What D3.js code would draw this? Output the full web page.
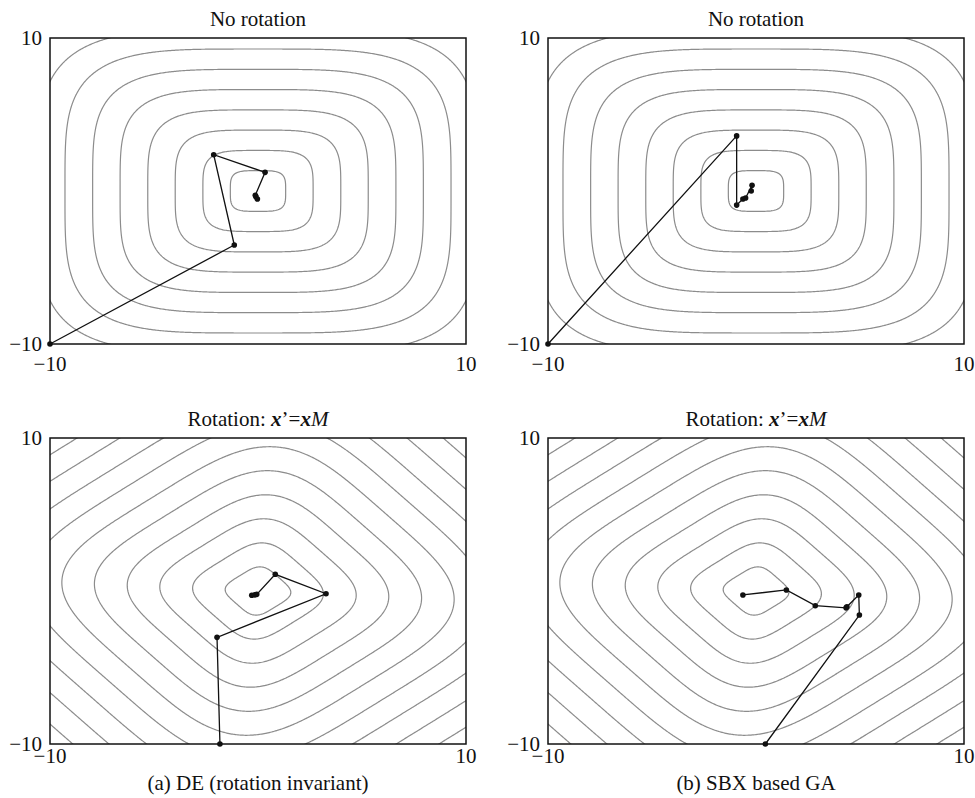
<!DOCTYPE html>
<html>
<head>
<meta charset="utf-8">
<script src="https://cdn.jsdelivr.net/npm/d3@7"></script>
<style>
  body { margin: 0; background: #fff; }
  text { font-family: "Liberation Serif", "Times New Roman", serif; fill: #111; }
</style>
</head>
<body>
<svg id="chart" width="975" height="798"></svg>
<script>
// ========== Chart values ==========
// Contour levels of the (rotated) 4-norm objective.
var contourLevels = [1.33, 2.65, 3.98, 5.3, 6.63, 7.95, 9.28, 10.6, 11.93, 13.25];
// Axis tick labels (same for every panel).
var tickValues = [-10, 10];
var tickLabels = ["\u221210", "10"];
// Rotation angle (degrees) used by each panel's objective.
var panelRotation = [0, 0, 40, 40];
var panelTitles = ["No rotation", "No rotation", "rot", "rot"];
var captions = ["", "", "(a) DE (rotation invariant)", "(b) SBX based GA"];

// Search paths (x, y) for each panel.
var pathDENoRot = [[-10, -10], [-1.14, -3.53], [-2.13, 2.37], [0.34, 1.22], [-0.13, -0.28], [-0.1, -0.37], [-0.03, -0.52]];
var pathGANoRot = [[-10, -10], [-0.93, 3.6], [-0.93, -0.92], [-0.63, -0.52], [-0.5, -0.46], [-0.19, 0.37], [-0.23, 0.0]];
var pathDERot = [[-1.83, -10], [-1.97, -3.03], [3.27, -0.18], [0.83, 1.09], [-0.06, -0.22], [-0.15, -0.25], [-0.3, -0.28]];
var pathGARot = [[0.45, -10], [4.97, -1.57], [4.94, -0.26], [4.37, -1.03], [4.33, -1.1], [2.85, -0.96], [1.46, 0.07], [-0.63, -0.26]];
// =======================================================

var paths = [pathDENoRot, pathGANoRot, pathDERot, pathGARot];
var panelLeft = [50, 548, 50, 548];
var panelTop = [38, 38, 438, 438];
var plotW = 416, plotH = 306;
var fontSize = 21;

// Grid for the contour computation (a bit wider than the plot, then clipped).
var g0 = -12, gStep = 0.06, gN = 401;

function objective(px, py, deg)
{
  var t = deg * Math.PI / 180;
  var u = px * Math.cos(t) + py * Math.sin(t);
  var v = -px * Math.sin(t) + py * Math.cos(t);
  return Math.pow(Math.pow(Math.abs(u), 4) + Math.pow(Math.abs(v), 4), 0.25);
}

function drawPanel(svg, p)
{
  var x0 = panelLeft[p], y0 = panelTop[p];
  var x = d3.scaleLinear().domain([-10, 10]).range([x0, x0 + plotW]);
  var y = d3.scaleLinear().domain([-10, 10]).range([y0 + plotH, y0]);

  svg.append("clipPath").attr("id", "clip" + p)
    .append("rect")
    .attr("x", x0).attr("y", y0)
    .attr("width", plotW).attr("height", plotH);

  // Contours
  var values = new Array(gN * gN);
  for (var j = 0; j < gN; j++)
    for (var i = 0; i < gN; i++)
      values[j * gN + i] = objective(g0 + i * gStep, g0 + j * gStep, panelRotation[p]);

  var contours = d3.contours().size([gN, gN]).thresholds(contourLevels)(values);
  var proj = d3.geoTransform({
    point: function(gx, gy) {
      this.stream.point(x(g0 + (gx - 0.5) * gStep), y(g0 + (gy - 0.5) * gStep));
    }
  });

  svg.append("g")
    .attr("clip-path", "url(#clip" + p + ")")
    .selectAll("path")
    .data(contours)
    .enter().append("path")
    .attr("d", d3.geoPath(proj))
    .attr("fill", "none")
    .attr("stroke", "#8c8c8c")
    .attr("stroke-width", 1.2);

  // Search path
  var line = d3.line()
    .x(function(d) { return x(d[0]); })
    .y(function(d) { return y(d[1]); });
  svg.append("path")
    .datum(paths[p])
    .attr("d", line)
    .attr("fill", "none")
    .attr("stroke", "#111")
    .attr("stroke-width", 1.3);
  svg.append("g")
    .selectAll("circle")
    .data(paths[p])
    .enter().append("circle")
    .attr("cx", function(d) { return x(d[0]); })
    .attr("cy", function(d) { return y(d[1]); })
    .attr("r", 2.8)
    .attr("fill", "#111");

  // Frame
  svg.append("rect")
    .attr("x", x0).attr("y", y0)
    .attr("width", plotW).attr("height", plotH)
    .attr("fill", "none")
    .attr("stroke", "#111")
    .attr("stroke-width", 1.5);

  // Tick labels
  var xBase = (p < 2) ? y0 + plotH + 27 : y0 + plotH + 19;
  for (var k = 0; k < tickValues.length; k++)
  {
    svg.append("text")
      .attr("x", x(tickValues[k]))
      .attr("y", xBase)
      .attr("text-anchor", "middle")
      .attr("font-size", fontSize)
      .text(tickLabels[k]);
    svg.append("text")
      .attr("x", x0 - 8)
      .attr("y", y(tickValues[k]) + 7)
      .attr("text-anchor", "end")
      .attr("font-size", fontSize)
      .text(tickLabels[k]);
  }

  // Title
  var title = svg.append("text")
    .attr("x", x0 + plotW / 2)
    .attr("y", y0 - 12)
    .attr("text-anchor", "middle")
    .attr("font-size", fontSize);
  if (panelTitles[p] == "rot")
  {
    title.append("tspan").text("Rotation: ");
    title.append("tspan").attr("font-weight", "bold").attr("font-style", "italic").text("x");
    title.append("tspan").text("\u2019=");
    title.append("tspan").attr("font-weight", "bold").attr("font-style", "italic").text("x");
    title.append("tspan").attr("font-style", "italic").text("M");
  }
  else
    title.text(panelTitles[p]);

  // Caption
  if (captions[p])
    svg.append("text")
      .attr("x", x0 + plotW / 2)
      .attr("y", y0 + plotH + 46)
      .attr("text-anchor", "middle")
      .attr("font-size", fontSize)
      .text(captions[p]);
}

var chart = d3.select("#chart");
for (var p = 0; p < 4; p++)
  drawPanel(chart, p);
</script>
</body>
</html>
